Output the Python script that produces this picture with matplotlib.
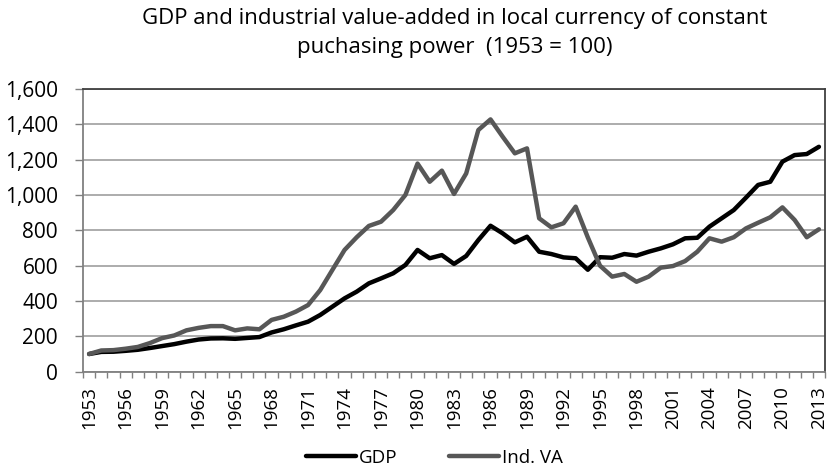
import matplotlib
matplotlib.use("Agg")
import matplotlib.pyplot as plt
from matplotlib.ticker import FuncFormatter, FixedLocator

years = list(range(1953, 2014))
gdp = [100, 112, 113, 118, 124, 134, 145, 156, 170, 182, 188, 189, 186, 191,
       196, 222, 240, 262, 283, 321, 368, 415, 453, 500, 528, 557, 604, 689,
       642, 660, 610, 655, 745, 826, 783, 732, 764, 679, 666, 647, 642, 577,
       648, 645, 666, 657, 679, 698, 721, 755, 758, 821, 868, 915, 985, 1057,
       1075, 1189, 1226, 1232, 1273]
ind_va = [100, 120, 122, 130, 140, 162, 190, 205, 234, 248, 258, 258, 234, 245,
          240, 293, 311, 340, 377, 462, 576, 689, 761, 825, 849, 915, 1000, 1178,
          1075, 1138, 1006, 1122, 1368, 1428, 1330, 1236, 1264, 868, 817, 840, 934, 760,
          600, 538, 553, 509, 538, 589, 598, 626, 679, 755, 736, 761, 811, 843,
          874, 930, 859, 761, 806]
tick_years = years[::3]
series_names = ["GDP", "Ind. VA"]
title = "GDP and industrial value-added in local currency of constant\npuchasing power  (1953 = 100)"

plt.rcParams['font.family'] = ['Open Sans', 'DejaVu Sans']

fig = plt.figure(figsize=(8.32, 4.69), dpi=100)
ax = fig.add_axes([0.0998, 0.2075, 0.8918, 0.6027])

idx = list(range(len(years)))
ax.plot(idx, gdp, color='black', lw=3.2, label=series_names[0], solid_capstyle='round', zorder=3)
ax.plot(idx, ind_va, color='#575757', lw=3.2, label=series_names[1], solid_capstyle='round', zorder=3)

ax.set_xlim(-0.5, len(years) - 0.5)
ax.set_ylim(0, 1600)
ax.set_yticks(range(0, 1601, 200))
ax.yaxis.set_major_formatter(FuncFormatter(lambda v, p: f"{int(v):,}"))
ax.grid(axis='y', color='#a6a6a6', lw=1.3, zorder=0)
ax.set_axisbelow(True)

ax.set_xticks([years.index(y) for y in tick_years])
ax.set_xticklabels([str(y) for y in tick_years], rotation=90)
ax.xaxis.set_minor_locator(FixedLocator([i - 0.5 for i in range(len(years) + 1)]))
ax.tick_params(axis='x', which='major', length=0, pad=10.5, labelsize=13.5)
ax.tick_params(axis='x', which='minor', length=4, color='#808080', width=1)
ax.tick_params(axis='y', length=6, color='#808080', width=1, pad=12, labelsize=15)

for s in ['left', 'bottom']:
    ax.spines[s].set_color('#808080')
    ax.spines[s].set_linewidth(1.3)
for s in ['top', 'right']:
    ax.spines[s].set_color('#404040')
    ax.spines[s].set_linewidth(1.3)

fig.text(0.547, 0.982, title, ha='center', va='top', fontsize=16, linespacing=1.5)

fig.legend(loc='center', bbox_to_anchor=(0.522, 0.0235), ncol=2, frameon=False,
           fontsize=13.5, handlelength=2.67, columnspacing=2.77, handletextpad=0.15)

fig.savefig("out.png", dpi=100)
